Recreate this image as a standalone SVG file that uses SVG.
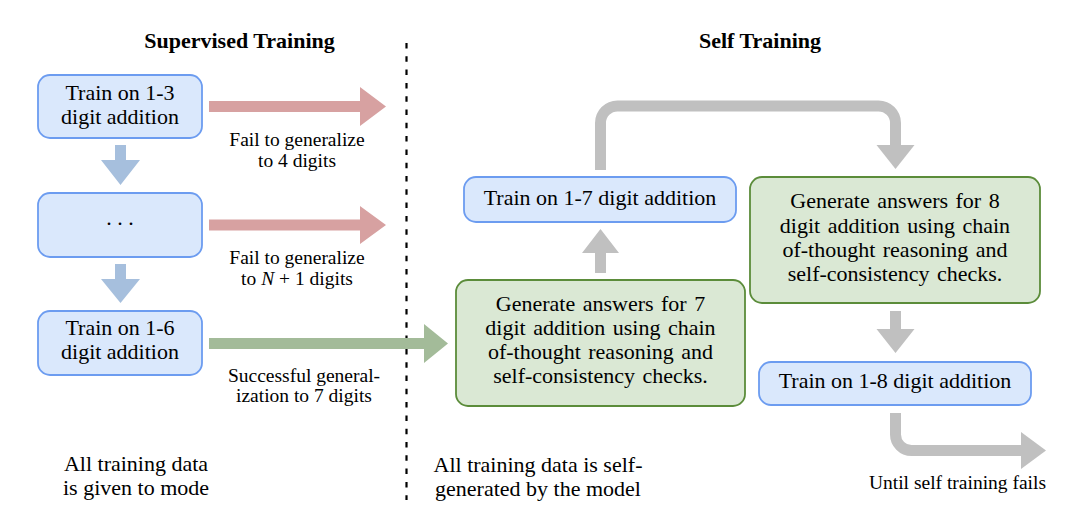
<svg xmlns="http://www.w3.org/2000/svg" width="1084" height="528" viewBox="0 0 1084 528">
<style>
text{font-family:"Liberation Serif","Times New Roman",serif;fill:#000}
.bx{font-size:22px;text-anchor:middle}
.gt{font-size:22px;text-anchor:middle;word-spacing:2px}
.lb{font-size:19.5px;text-anchor:middle}
.tt{font-size:22px;font-weight:bold;text-anchor:middle}
.blue{fill:#dae8fc;stroke:#6c9cf0;stroke-width:1.8}
.green{fill:#dae8d4;stroke:#5b8c3a;stroke-width:1.8}
.ared{fill:#d7a1a1}
.ablue{fill:#a6bfdd}
.agreen{fill:#a3bb99}
.agray{fill:#c0c0c0}
.sgray{fill:none;stroke:#c0c0c0;stroke-width:11}
</style>
<rect width="1084" height="528" fill="#fff"/>
<g id="titles">
<text class="tt" x="239.5" y="48">Supervised Training</text>
<text class="tt" x="760" y="48">Self Training</text>
</g>
<g id="divider">
<line x1="406.5" y1="43" x2="406.5" y2="500" stroke="#000" stroke-width="2.2" stroke-dasharray="5.5 7.8"/>
</g>
<g id="connectors">
<polygon class="ablue" points="115,145 126,145 126,160 140,160 120.5,185 101,160 115,160"/>
<polygon class="ablue" points="115,264 126,264 126,279 140,279 120.5,303 101,279 115,279"/>
<polygon class="ared" points="209,101 360,101 360,87 386,106.5 360,126 360,112 209,112"/>
<polygon class="ared" points="209,219.5 360,219.5 360,206 386,225 360,244 360,230.5 209,230.5"/>
<polygon class="agreen" points="209,338 424,338 424,324 448,343.5 424,363 424,349 209,349"/>
<polygon class="agray" points="595,273 606,273 606,253 619,253 600.5,229 582,253 595,253"/>
<path class="sgray" d="M600.5,170 V123 A17 17 0 0 1 617.5,106 H878.5 A17 17 0 0 1 895.5,123 V146"/>
<polygon class="agray" points="876.5,145 914.5,145 895.5,169"/>
<polygon class="agray" points="890,311 901,311 901,329 914.5,329 895.5,353 876.5,329 890,329"/>
<path class="sgray" d="M895.5,413 V434.5 A16 16 0 0 0 911.5,450.5 H1022"/>
<polygon class="agray" points="1021,432 1046,450.5 1021,469"/>
</g>
<g id="labels">
<text class="lb" x="297" y="146">Fail to generalize</text>
<text class="lb" x="297" y="167">to 4 digits</text>
<text class="lb" x="297" y="264">Fail to generalize</text>
<text class="lb" x="297" y="285">to <tspan font-style="italic">N</tspan> + 1 digits</text>
<text class="lb" x="304" y="382">Successful general-</text>
<text class="lb" x="304" y="402">ization to 7 digits</text>
<text class="lb" x="957.5" y="489">Until self training fails</text>
<text class="bx" x="136" y="471">All training data</text>
<text class="bx" x="136" y="495">is given to mode</text>
<text class="bx" x="538" y="472">All training data is self-</text>
<text class="bx" x="538" y="496">generated by the model</text>
</g>
<g id="node-train-1-3">
<rect class="blue" x="38" y="75" width="164" height="63" rx="12"/>
<text class="bx" x="120" y="100">Train on 1-3</text>
<text class="bx" x="120" y="123.5">digit addition</text>
</g>
<g id="node-dots">
<rect class="blue" x="38" y="193" width="164" height="64" rx="12"/>
<text class="bx" x="120" y="225">. . .</text>
</g>
<g id="node-train-1-6">
<rect class="blue" x="38" y="311" width="164" height="64" rx="12"/>
<text class="bx" x="120" y="335">Train on 1-6</text>
<text class="bx" x="120" y="358.5">digit addition</text>
</g>
<g id="node-train-1-7">
<rect class="blue" x="464" y="177" width="272" height="45" rx="12"/>
<text class="bx" x="600" y="204.5">Train on 1-7 digit addition</text>
</g>
<g id="node-generate-7">
<rect class="green" x="456" y="280" width="289" height="126" rx="12"/>
<text class="gt" x="600.5" y="311">Generate answers for 7</text>
<text class="gt" x="600.5" y="335">digit addition using chain</text>
<text class="gt" x="600.5" y="358.5">of-thought reasoning and</text>
<text class="gt" x="600.5" y="383">self-consistency checks.</text>
</g>
<g id="node-generate-8">
<rect class="green" x="750" y="177" width="290" height="126" rx="12"/>
<text class="gt" x="895" y="208">Generate answers for 8</text>
<text class="gt" x="895" y="233">digit addition using chain</text>
<text class="gt" x="895" y="257">of-thought reasoning and</text>
<text class="gt" x="895" y="281">self-consistency checks.</text>
</g>
<g id="node-train-1-8">
<rect class="blue" x="759" y="362" width="272" height="43" rx="12"/>
<text class="bx" x="895" y="388">Train on 1-8 digit addition</text>
</g>
</svg>
